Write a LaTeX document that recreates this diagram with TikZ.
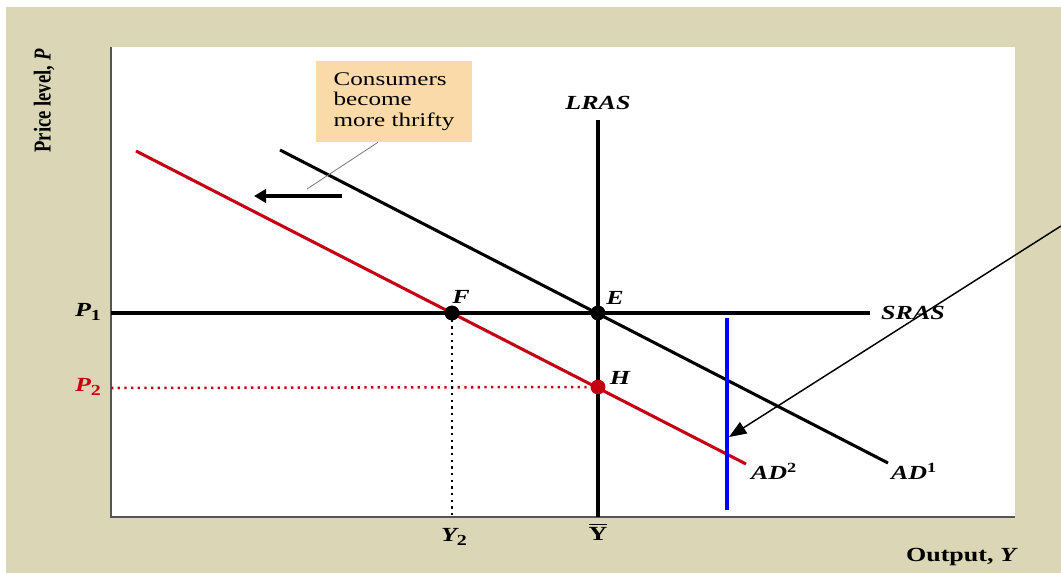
\documentclass[tikz,border=0pt]{standalone}
\usepackage{fontspec}
\setmainfont{Liberation Serif}[FakeStretch=1.3]
\newfontfamily\plainserif{Liberation Serif}
\usetikzlibrary{arrows.meta}
\definecolor{bgbeige}{RGB}{218,214,182}
\definecolor{peach}{RGB}{250,218,168}
\definecolor{adred}{RGB}{196,0,18}
\definecolor{axisgray}{RGB}{85,85,85}
\definecolor{leadgray}{RGB}{120,120,120}
\newcommand{\barletter}[1]{{\setbox0=\hbox{#1}\vbox{\hrule width\wd0 height 1.1pt\kern1.6pt\box0}}}
\begin{document}
\begin{tikzpicture}[x=0.75pt,y=-0.75pt,
  curveline/.style={line width=2.3pt},
  redline/.style={line width=2.3pt, draw=adred},
  dotpt/.style={circle, fill=black, inner sep=0pt, minimum size=11pt},
  reddot/.style={circle, fill=adred, inner sep=0pt, minimum size=11pt},
  lbl/.style={font=\fontsize{15}{17}\selectfont\bfseries\itshape, inner sep=0pt},
  dotline/.style={line width=1.9pt, dash pattern=on 1.7pt off 3.3pt},
  calloutbox/.style={fill=peach, minimum width=117pt, minimum height=60.75pt, inner sep=0pt, align=left,
     font=\fontsize{14.5}{15.4}\selectfont}
]
\useasboundingbox (0,0) rectangle (1061,573);
% background
\fill[white] (0,0) rectangle (1061,573);
\fill[bgbeige] (6,7) rectangle (1061,573);
\fill[white] (111,47) rectangle (1015,517);
% axes
\coordinate (otop) at (111,47);
\coordinate (orig) at (111,517);
\coordinate (xend) at (1015,517);
\draw[axisgray, line width=1.6pt] (otop) -- (orig) -- (xend);

% key points
\node[dotpt] (E) at (598,313) {};
\node[dotpt] (F) at (452,313) {};
\node[reddot] (H) at (598,387) {};

% endpoints
\coordinate (lrasT) at (598,120);
\coordinate (lrasB) at (598,517);
\coordinate (srasL) at (111,313);
\coordinate (srasR) at (870,313);
\coordinate (ad1a) at (280,150);
\coordinate (ad1b) at (888,463);
\coordinate (ad2a) at (136,151);
\coordinate (ad2b) at (746,464);
\coordinate (p2L) at (111,388);
\coordinate (y2B) at (452,517);

% dotted guides
\draw[dotline, adred] (p2L) -- (H.center);
\draw[dotline] (F.center) -- (y2B);

% curves
\draw[curveline] (lrasT) -- (lrasB);
\draw[curveline] (srasL) -- (srasR);
\draw[curveline] (ad1a) -- (ad1b);
\draw[redline] (ad2a) -- (ad2b);

% redraw dots on top
\node[dotpt] at (E) {};
\node[dotpt] at (F) {};
\node[reddot] at (H) {};

% blue line
\coordinate (blT) at (727,318);
\coordinate (blB) at (727,510);
\draw[blue, line width=2.3pt] (blT) -- (blB);

% callout
\node[calloutbox] (cb) at (394,101.5) {Consumers\\become\\more thrifty};
\coordinate (leadend) at (307,189);
\draw[leadgray, line width=0.6pt] ([xshift=-12pt]cb.south) -- (leadend);

% shift arrow
\coordinate (sa1) at (342,196);
\coordinate (sa2) at (254,196);
\draw[line width=2.3pt, -{Triangle[length=9pt,width=10pt]}] (sa1) -- (sa2);

% thin pointer arrow
\coordinate (ptS) at (1061,226);
\coordinate (ptE) at (729,437);
\draw[line width=1.1pt, -{Triangle[length=13pt,width=10pt]}] (ptS) -- (ptE);

% labels
\node[lbl] (lLRAS) at (598,103) {LRAS};
\node[lbl] (lSRAS) at (913,313) {SRAS};
\node[lbl] (lE) at (615,298) {E};
\node[lbl] (lF) at (461,297) {F};
\node[lbl] (lH) at (620,378) {H};
\node[lbl] (lAD2) at (774,471) {AD\textsuperscript{\upshape 2}};
\node[lbl] (lAD1) at (914,471) {AD\textsuperscript{\upshape 1}};
\node[lbl] (lP1) at (88,312) {P\raisebox{-0.35ex}{\fontsize{11.5}{12}\selectfont\upshape 1}};
\node[lbl, text=adred] (lP2) at (88,387) {P\raisebox{-0.35ex}{\fontsize{11.5}{12}\selectfont\upshape 2}};
\node[lbl] (lY2) at (454,537) {Y\raisebox{-0.35ex}{\fontsize{11.5}{12}\selectfont\upshape 2}};
\node[lbl, font=\fontsize{15}{17}\selectfont\bfseries] (lYbar) at (598,532) {\barletter{Y}};
\node[lbl, font=\fontsize{15}{17}\selectfont\bfseries] (lOut) at (962,557) {Output, \textit{Y}};
\node[inner sep=0pt, rotate=90, font=\plainserif\fontsize{14}{16}\selectfont\bfseries] (lPrice) at (44,101) {\scalebox{1}[1.3]{Price level, \textit{P}}};
\end{tikzpicture}
\end{document}
